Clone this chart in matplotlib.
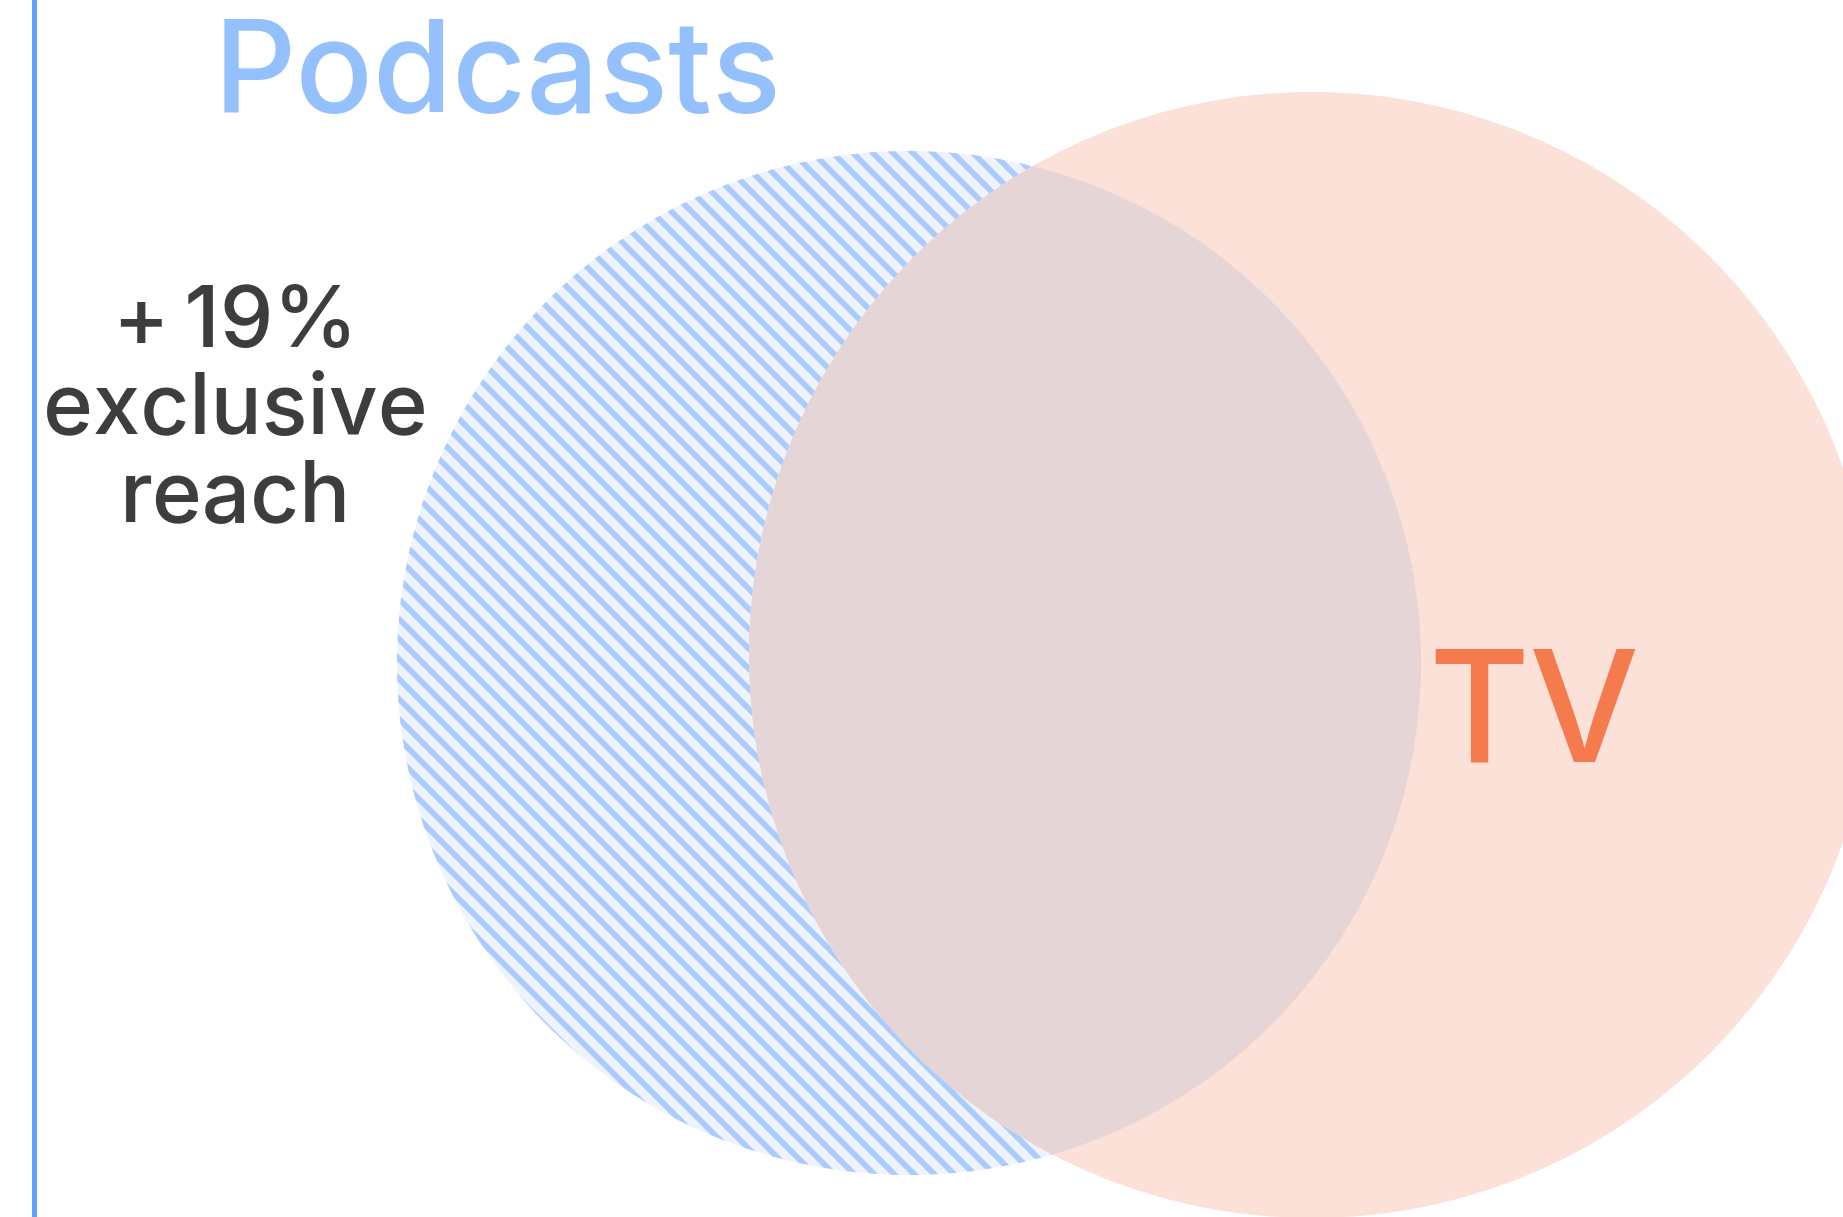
import numpy as np
import matplotlib.pyplot as plt
from matplotlib.patches import Circle

plt.rcParams['font.family'] = ['Inter', 'DejaVu Sans']
plt.rcParams['hatch.linewidth'] = 3.4

# 数据: 两个集合 (像素坐标, 画布 1843x1217)
set_names = ['Podcasts', 'TV']
set_centers = [(909, 663), (1312, 655)]
set_radii = [512, 563]
exclusive_label = ['+\u200919%', 'exclusive', 'reach']

W, H, DPI = 1843, 1217, 120
fig = plt.figure(figsize=(W / DPI, H / DPI), dpi=DPI)
ax = fig.add_axes([0, 0, 1, 1])
ax.set_xlim(0, W)
ax.set_ylim(H, 0)
ax.axis('off')

# Podcasts 圆 (斜线填充)
pod = Circle(set_centers[0], set_radii[0], facecolor='#eff3fd',
             edgecolor='#a9ccfd', hatch='\\\\', linewidth=0, zorder=1)
ax.add_patch(pod)

# TV 圆
tv = Circle(set_centers[1], set_radii[1], facecolor='#fbe1d7',
            edgecolor='none', linewidth=0, zorder=2)
ax.add_patch(tv)

# 交集
inter = Circle(set_centers[0], set_radii[0], facecolor='#e6d5d7',
               edgecolor='none', linewidth=0, zorder=3)
ax.add_patch(inter)
inter.set_clip_path(tv)

# 左侧竖线
ax.axvline(33.5, color='#62a0fb', linewidth=5 * 72 / DPI, zorder=4)

# 文字
ax.text(498, 113, set_names[0], ha='center', va='baseline',
        fontsize=77, fontweight='medium', color='#94c1fd', zorder=5)
ax.text(1534, 762, set_names[1], ha='center', va='baseline',
        fontsize=93, fontweight='medium', color='#f57a4e', zorder=5)
for i, line in enumerate(exclusive_label):
    ax.text(235, 347 + i * 87.5, line, ha='center', va='baseline',
            fontsize=51, fontweight='medium', color='#3d3d3d', zorder=5)

fig.savefig('out.png', dpi=DPI, facecolor='white')
